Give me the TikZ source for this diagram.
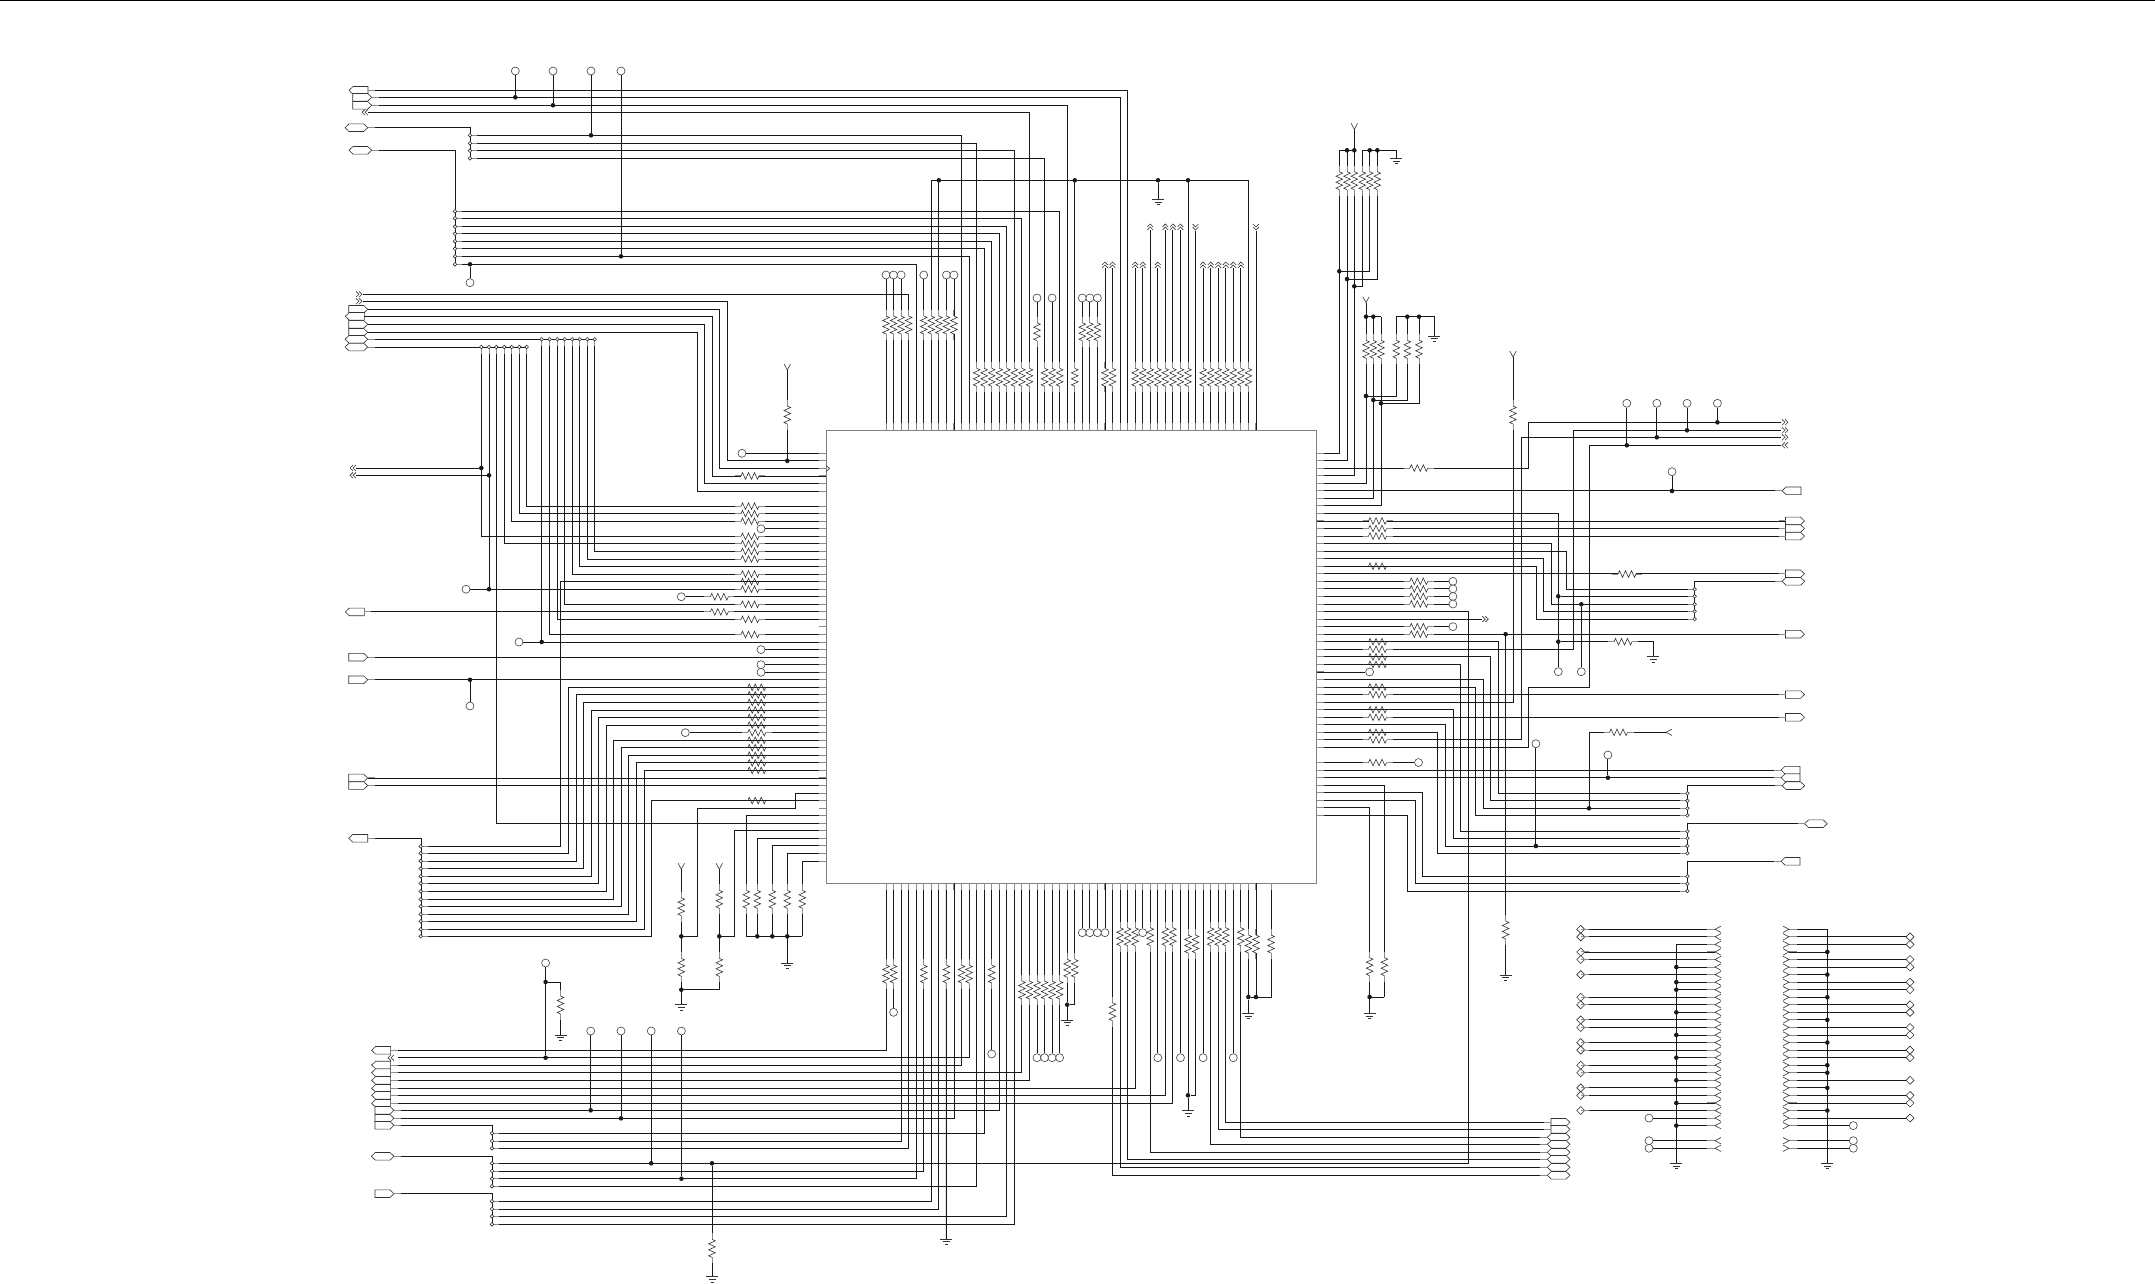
\documentclass[tikz,border=0pt]{standalone}
\tikzset{
  wire/.style={line width=0.9pt,black!90},
  part/.style={line width=0.6pt,black!80},
  pinstub/.style={line width=1pt,black!45},
  jdot/.style={circle,fill=black!90,inner sep=0pt,minimum size=4.6pt},
  term/.style={circle,draw=black!75,fill=white,line width=0.6pt,inner sep=0pt,minimum size=8pt},
  resv/.pic={
    \draw[white,line width=2pt] (0,-9) -- (0,9);
    \draw[pinstub] (0,-15) -- (0,-9) (0,9) -- (0,15);
    \draw[part] (0,-9) -- (3.3,-7.5) -- (-3.3,-4.5) -- (3.3,-1.5) -- (-3.3,1.5) -- (3.3,4.5) -- (-3.3,7.5) -- (0,9);
  },
  gnd/.pic={\draw[part] (-6,0) -- (6,0) (-3.5,2.7) -- (3.5,2.7) (-1.5,5.4) -- (1.5,5.4);},
  portout/.pic={
    \draw[part,fill=white] (0,-3.8) -- (-15,-3.8) -- (-19,0) -- (-15,3.8) -- (0,3.8) -- cycle;
    \draw[pinstub] (0,0) -- (7,0);
  },
  portin/.pic={
    \draw[part,fill=white] (0,0) -- (-4,-3.8) -- (-19,-3.8) -- (-19,3.8) -- (-4,3.8) -- cycle;
    \draw[pinstub] (0,0) -- (7,0);
  },
  porthex/.pic={
    \draw[part,fill=white] (0,0) -- (-4,-3.8) -- (-18.7,-3.8) -- (-22.7,0) -- (-18.7,3.8) -- (-4,3.8) -- cycle;
    \draw[pinstub] (0,0) -- (7,0);
  },
  chevd/.pic={\draw[part] (0,-2.9) -- (-3,0) -- (0,2.9) (3,-2.9) -- (0,0) -- (3,2.9);},
  chevs/.pic={\draw[part] (6,-3.2) -- (0,0) -- (6,3.2);},
  tap/.pic={
    \draw[pinstub] (1.8,0) -- (7,0);
    \draw[part,fill=white] (0,0) circle (1.8);
  },
  dia/.pic={\draw[part,fill=white] (-4,0) -- (0,-4) -- (4,0) -- (0,4) -- cycle;},
}
\begin{document}
\begin{tikzpicture}[x=1pt,y=-1pt]
  \useasboundingbox (0,0) rectangle (2155,1284);
  \draw[line width=1.4pt] (0,0.5) -- (2155,0.5);
  \node[draw=black!50,line width=0.9pt,inner sep=0pt,minimum width=490.5pt,minimum height=453pt] (chip) at (1071.25,656.5) {};
  \foreach \i in {0,...,54} {
    \coordinate (L\i) at (826,453.3+7.55*\i);
    \coordinate (R\i) at (1316.5,453+7.55*\i);
  }
  \foreach \i in {0,...,51} {
    \coordinate (T\i) at (886+7.55*\i,430);
    \coordinate (B\i) at (886+7.55*\i,883);
  }
  % top edge
  \foreach \p/\y/\x in {3/294.3/363, 4/264.3/455.7, 10/135.3/470.7, 11/256.3/455.7, 12/143.3/470.7, 13/248.7/455.7, 14/241.3/455.7, 15/233.7/455.7, 16/226.7/455.7, 17/150.7/470.7, 18/218.3/455.7, 19/112.3/368, 21/158.3/470.7, 23/211.3/455.7, 24/105.3/371.7, 31/97.3/371.7, 32/90.3/368}
    \draw[wire] (T\p) |- (\x,\y);
  \foreach \p in {6,7,25,40,48}
    \draw[wire] (T\p) -- (886+7.55*\p,180.3);
  \draw[wire] (931.3,180.3) -- (1248.7,180.3);
  \foreach \p in {7,25,40}
    \node[jdot] (td\p) at (886+7.55*\p,180.3) {};
  \node[jdot] (tg) at (1158,180.3) {};
  \coordinate (tgnd) at (1158,199.3);
  \draw[wire] (tg) -- (tgnd);
  \pic at (tgnd) {gnd};
  \foreach \p/\y in {0/275,1/275,2/275,5/275,8/275,9/275,20/298,22/298,26/298,27/298,28/298} {
    \node[term] (tc\p) at (886+7.55*\p,\y) {};
    \draw[wire] (T\p) -- (tc\p);
  }
  \foreach \p/\y in {29/265,30/265,33/265,34/265,35/227,36/265,37/227,38/227,39/227,42/265,43/265,44/265,45/265,46/265,47/265} {
    \draw[wire] (T\p) -- (886+7.55*\p,\y+3);
    \pic[rotate=-90] at (886+7.55*\p,\y) {chevd};
  }
  \foreach \p in {41,49} {
    \draw[wire] (T\p) -- (886+7.55*\p,231);
    \pic[rotate=90] at (886+7.55*\p,227) {chevd};
  }
  \foreach \p in {0,1,2,3,5,6,7,8,9}
    \pic at (886+7.55*\p,325) {resv};
  \foreach \p in {20,26,27,28}
    \pic at (886+7.55*\p,331.7) {resv};
  \foreach \p in {12,...,19,21,22,23,25,29,30,33,34,35,36,37,38,39,40,42,43,44,45,46,47,48}
    \pic at (886+7.55*\p,377.3) {resv};
  % top left
  \foreach \x/\y/\yy in {515.3/71/97.3, 553/71/105.3, 591/71/135.3, 621/71/256.3, 470/282.7/264.3} {
    \node[term] (tu) at (\x,\y) {};
    \node[jdot] (td) at (\x,\yy) {};
    \draw[wire] (tu) -- (td);
  }
  \draw[wire] (367.7,127.7) -| (470.7,158.3);
  \draw[wire] (371.7,150.3) -| (455.7,264.3);
  \draw[wire] (368,339.3) -- (594.7,339.3);
  \draw[wire] (368,347) -- (526.7,347);
  \pic at (368,90.3) {portout};
  \foreach \y in {97.3,105.3}
    \pic at (371.7,\y) {portin};
  \pic at (365,112.3) {chevd};
  \pic at (367.7,127.7) {porthex};
  \pic at (371.7,150.3) {porthex};
  \foreach \y in {294.3,301.3}
    \pic[xscale=-1] at (359,\y) {chevd};
  \foreach \y in {309.3,324.3,332.3}
    \pic at (367.7,\y) {portin};
  \pic at (364.3,316.3) {portout};
  \foreach \y in {339.3,347}
    \pic at (367.7,\y) {porthex};
  \foreach \y in {135.3,143.3,150.7,158.3}
    \pic at (470,\y) {tap};
  \foreach \y in {211.3,218.3,226.7,233.7,241.3,248.7,256.3,264.3}
    \pic at (455,\y) {tap};
  % left edge
  \foreach \p/\x/\y/\e in {1/727.3/301.3/363, 2/719.3/309.3/367.7, 3/712.3/316.3/364.3, 4/704.7/324.3/367.7, 5/697.3/332.3/367.7}
    \draw[wire] (L\p) -| (\x,\y) -- (\e,\y);
  \draw[wire] (489,347) -- (489,589.2);
  \foreach \p/\x/\y in {11/481.3/347, 49/496.3/347, 12/504.3/347, 9/511.7/347, 8/519.3/347, 7/526.7/347, 25/541.7/339.3, 24/549.7/339.3, 22/557.3/339.3, 20/564.7/339.3, 16/572.3/339.3, 15/579.7/339.3, 14/587.3/339.3, 13/594.7/339.3} {
    \draw[wire] (L\p) -| (\x,\y);
    \pic[rotate=-90] at (\x,\y) {tap};
  }
  \pic[rotate=-90] at (489,347) {tap};
  \foreach \p/\x in {0/742,10/761,18/466,19/681.3,25/519,26/761,28/761,29/761,37/685.3} {
    \node[term] (lc\p) at (\x,453.3+7.55*\p) {};
    \draw[wire] (L\p) -- (lc\p);
  }
  \foreach \p/\e in {27/367.7,30/367.7,43/367.7,44/367.7} {
    \draw[wire] (L\p) -- ++(\e-826,0);
    \pic at (\e,453.3+7.55*\p) {portin};
  }
  \draw[wire] (L21) -- ++(364.3-826,0);
  \pic at (364.3,611.9) {portout};
  \foreach \x/\y/\xx in {353/468/481.3, 353/475.3/489} {
    \node[jdot] (ld) at (\xx,\y) {};
    \draw[wire] (\x+3,\y) -- (ld);
    \pic at (\x,\y) {chevd};
  }
  \foreach \x/\y in {489/589.2, 541.7/642, 470/679.8}
    \node[jdot] at (\x,\y) {};
  \draw[wire] (470,679.8) -- (470,702);
  \node[term] (lc30) at (470,706) {};
  \draw[wire] (787.3,370) -- (787.3,460.85);
  \node[jdot] (ld1) at (787.3,460.85) {};
  \pic[rotate=90] at (787.3,370) {chevs};
  \pic at (787.3,415) {resv};
  \draw[part] (826,465.5) -- (829.5,468.5) -- (826,471.5);
  \foreach \p in {3,7,8,9,11,12,13,14,16,17,18,20,22,24}
    \pic[rotate=90] at (750,453.3+7.55*\p) {resv};
  \foreach \p in {19,21}
    \pic[rotate=90] at (719.3,453.3+7.55*\p) {resv};
  \foreach \p in {31,...,42,46}
    \pic[rotate=90] at (756.7,453.3+7.55*\p) {resv};
  % lower left
  \draw[wire] (367.7,838.3) -| (421.7,936.3);
  \foreach \p/\x/\y in {17/560.3/846.3, 31/568.3/853.3, 32/576.3/861, 33/583.7/868.7, 34/591.3/876.3, 35/598.7/883.3, 36/606.3/891.3, 38/613.7/899.3, 39/621.7/906.3, 40/628.3/914.3, 41/636.3/921.3, 42/644.3/929.3, 46/651.7/936.3} {
    \draw[wire] (L\p) -| (\x,\y) -- (421.7,\y);
    \pic at (420.7,\y) {tap};
  }
  \pic at (367.7,838.3) {portout};
  \draw[wire] (L45) -| (795,808.3) -| (697.3,936.3) -- (681.3,936.3);
  \draw[wire] (L50) -| (734.3,936.3) -- (719.3,936.3);
  \foreach \p/\x in {48/746.3,51/757.3,52/772.3,53/787.3,54/802.3} {
    \draw[wire] (L\p) -| (\x,936.3);
    \pic at (\x,899.3) {resv};
  }
  \draw[wire] (746.3,936.3) -- (802.3,936.3);
  \foreach \x in {757.3,772.3,787.3,681.3,719.3}
    \node[jdot] at (\x,936.3) {};
  \draw[wire] (787.3,936.3) -- (787.3,963);
  \pic at (787.3,963) {gnd};
  \draw[wire] (681.3,869.3) -- (681.3,1004.7);
  \draw[wire] (719.3,869.3) -- (719.3,989.7) -- (681.3,989.7);
  \node[jdot] (gd1) at (681.3,989.7) {};
  \pic at (681.3,1004.7) {gnd};
  \foreach \x in {681.3,719.3} {
    \pic[rotate=90] at (\x,869.3) {chevs};
    \pic at (\x,967.3) {resv};
  }
  \pic at (681.3,906.7) {resv};
  \pic at (719.3,899.3) {resv};
  % bottom edge
  \foreach \p/\y/\x in {0/1050.3/398, 11/1057.7/398, 10/1065/398, 18/1072.7/398, 19/1080.3/398, 33/1088.3/398, 37/1095.3/398, 38/1103.3/398, 15/1110.3/398, 9/1118.3/398, 13/1133.3/492, 2/1141/492, 3/1148.3/492, 5/1171/492, 4/1178.7/492, 12/1186.3/492, 6/1201.3/492, 7/1209/492, 16/1216.3/492, 17/1224.3/492}
    \draw[wire] (B\p) |- (\x,\y);
  \foreach \p/\y in {45/1122.3, 44/1129.3, 47/1137.3, 43/1144.3, 35/1152.3, 32/1159.3, 31/1167.3, 30/1175.3}
    \draw[wire] (B\p) |- (1547,\y);
  \foreach \p/\y in {1/1012.3, 14/1054, 20/1057.7, 21/1057.7, 22/1057.7, 23/1057.7, 26/932.7, 27/932.7, 28/932.7, 29/932.7, 34/932.7, 36/1057.7, 39/1057.7, 42/1057.7, 46/1057.7} {
    \node[term] (bc\p) at (886+7.55*\p,\y) {};
    \draw[wire] (B\p) -- (bc\p);
  }
  \draw[wire] (B8) -- (946.4,1239);
  \pic at (946.4,1239) {gnd};
  \foreach \p/\q/\y/\g in {24/25/1004.7/1020, 40/41/1095.3/1110.7, 48/49/997/1013.3} {
    \node[jdot] (bg\p) at (886+7.55*\p,\y) {};
    \draw[wire] (B\p) -- (bg\p);
    \draw[wire] (B\q) |- (bg\p);
    \draw[wire] (bg\p) -- (886+7.55*\p,\g);
    \pic at (886+7.55*\p,\g) {gnd};
  }
  \node[jdot] (bh49) at (886+7.55*49,997) {};
  \draw[wire] (B51) |- (bh49);
  \foreach \p in {0,1,5,8,10,11,14}
    \pic at (886+7.55*\p,974) {resv};
  \foreach \p in {18,...,23}
    \pic at (886+7.55*\p,990) {resv};
  \foreach \p in {24,25}
    \pic at (886+7.55*\p,968.3) {resv};
  \foreach \p in {31,32,33,35,37,38,43,44,45,47}
    \pic at (886+7.55*\p,936.7) {resv};
  \foreach \p in {40,41,48,49,51}
    \pic at (886+7.55*\p,944) {resv};
  \pic at (886+7.55*30,1011.7) {resv};
  % lower left block
  \draw[wire] (394,1125.3) -| (492.4,1148.3);
  \draw[wire] (394,1156.3) -| (492.4,1186.3);
  \draw[wire] (394,1193.7) -| (492.4,1224.3);
  \foreach \y in {1050.3,1065,1072.7,1080.3,1088.3,1095.3,1103.3}
    \pic at (390.6,\y) {portout};
  \pic at (391,1057.7) {chevd};
  \foreach \y in {1110.3,1118.3,1125.3,1193.7}
    \pic at (394,\y) {portin};
  \pic at (394,1156.3) {porthex};
  \foreach \x/\y/\yy in {590.7/1031/1110.3, 621/1031/1118.3, 651.2/1031/1163.3, 681.4/1031/1178.7} {
    \node[term] (bu) at (\x,\y) {};
    \node[jdot] (bv) at (\x,\yy) {};
    \draw[wire] (bu) -- (bv);
  }
  \node[term] (bt) at (545.6,963) {};
  \node[jdot] (bx) at (545.6,982) {};
  \node[jdot] (by) at (545.6,1057.7) {};
  \draw[wire] (bt) -- (by);
  \draw[wire] (bx) -| (560.5,1035);
  \pic at (560.5,1005) {resv};
  \pic at (560.5,1035) {gnd};
  \node[jdot] (bz) at (712,1163.3) {};
  \draw[wire] (bz) -- (712,1276.7);
  \pic at (712,1248.3) {resv};
  \pic at (712,1276.7) {gnd};
  \foreach \y in {1122.3,1129.3}
    \pic[xscale=-1] at (1551,\y) {portout};
  \foreach \y in {1137.3,1144.3,1152.3,1159.3,1167.3,1175.3}
    \pic[xscale=-1] at (1547.3,\y) {porthex};
  % right edge, up
  \foreach \p/\x/\y in {0/1339.3/150.3, 1/1347/150.3, 3/1354.3/129.3, 4/1366/302.7, 6/1373.3/316.7, 7/1381/316.7, 33/1513/357}
    \draw[wire] (R\p) -| (\x,\y);
  \pic[rotate=90] at (1354.3,129.3) {chevs};
  \pic[rotate=90] at (1366,302.7) {chevs};
  \pic[rotate=90] at (1513,357) {chevs};
  \pic at (1513,415) {resv};
  \draw[wire] (1339.3,150.3) -- (1354.3,150.3);
  \draw[wire] (1396,158.3) |- (1362.3,150.3) |- (1354.3,286.3);
  \draw[wire] (1369.7,150.3) |- (1339.3,271.3);
  \draw[wire] (1377.3,150.3) |- (1347,279);
  \pic at (1396,158.3) {gnd};
  \foreach \x in {1339.3,1347,1354.3,1362.3,1369.7,1377.3}
    \pic at (\x,180.7) {resv};
  \foreach \x/\y in {1347/150.3, 1354.3/150.3, 1369.7/150.3, 1377.3/150.3, 1339.3/271.3, 1347/279, 1354.3/286.3, 1366/316.7, 1373.3/316.7, 1407.3/316.7, 1419/316.7, 1366/396, 1373.3/400, 1381/403.3}
    \node[jdot] at (\x,\y) {};
  \draw[wire] (1366,316.7) -- (1381,316.7);
  \draw[wire] (1434.3,336) |- (1396.3,316.7) |- (1366,396);
  \draw[wire] (1407.3,316.7) |- (1373.3,400);
  \draw[wire] (1419,316.7) |- (1381,403.3);
  \pic at (1434.3,336) {gnd};
  \foreach \x in {1366,1373.3,1381,1396.3,1407.3,1419}
    \pic at (\x,349.3) {resv};
  % right edge, rows
  \foreach \p/\x in {5/1782, 42/1781, 43/1781} {
    \draw[wire] (R\p) -- ++(\x-1316.5,0);
    \pic[xscale=-1] at (\x,453+7.55*\p) {portin};
  }
  \foreach \p in {9,10,11,16,24,32,35} {
    \draw[wire] (R\p) -- ++(1785.5-1316.5,0);
    \pic[xscale=-1] at (1785.5,453+7.55*\p) {portout};
  }
  \draw[wire] (R2) -| (1528.3,422.3) -- (1781,422.3);
  \draw[wire] (R38) -| (1521,437.3) -- (1781,437.3);
  \draw[wire] (R26) -| (1573.4,430.3) -- (1781,430.3);
  \draw[wire] (R39) -| (1528.3,687) -| (1589.3,445.3) -- (1781,445.3);
  \foreach \y in {422.3,430.3,437.3}
    \pic[xscale=-1] at (1785,\y) {chevd};
  \pic at (1785,445.3) {chevd};
  \foreach \x/\y/\yy in {1626.8/403.3/445.3, 1656.8/403.3/437.3, 1687/403.3/430.3, 1717.4/403.3/422.3, 1672/471.7/491, 1607.9/755/777.7, 1535.9/743.7/846, 1581.3/671.7/604.3} {
    \node[term] (ru) at (\x,\y) {};
    \node[jdot] (rv) at (\x,\yy) {};
    \draw[wire] (ru) -- (rv);
  }
  \foreach \p/\x in {17/1452.9,18/1452.9,19/1452.9,20/1452.9,23/1452.9,29/1369.6,41/1418.5} {
    \node[term] (rc\p) at (\x,453+7.55*\p) {};
    \draw[wire] (R\p) -- (rc\p);
  }
  \foreach \p in {9,10,11,15,25,26,27,28,31,32,34,35,37,38,41}
    \pic[rotate=90] at (1377.5,453+7.55*\p) {resv};
  \foreach \p in {2,17,18,19,20,23,24}
    \pic[rotate=90] at (1418.8,453+7.55*\p) {resv};
  \pic[rotate=90] at (1627,574) {resv};
  % right bus
  \draw[wire] (1782,581.3) -| (1694.6,619);
  \foreach \p/\x/\y in {12/1551.4/604.3, 13/1566.2/589.3, 14/1543.8/611.3, 15/1536.2/619} {
    \draw[wire] (R\p) -| (\x,\y) -- (1694.6,\y);
    \pic[xscale=-1] at (1694.6,\y) {tap};
  }
  \node[term] (r8c) at (1558.3,671.7) {};
  \draw[wire] (R8) -| (r8c);
  \node[jdot] (r8a) at (1558.3,596.3) {};
  \node[jdot] (r8b) at (1558.3,641.7) {};
  \draw[wire] (r8a) -- (1694.6,596.3);
  \pic[xscale=-1] at (1694.6,596.3) {tap};
  \draw[wire] (r8b) -| (1653.3,656.7);
  \pic[rotate=90] at (1623,641.7) {resv};
  \pic at (1653.3,656.7) {gnd};
  \pic[xscale=-1] at (1782,581.3) {porthex};
  \draw[wire] (1782,785.7) -| (1687.4,815.3);
  \draw[wire] (1804.5,823.7) -| (1687.4,853.3);
  \draw[wire] (1781,861.3) -| (1687.4,891);
  \foreach \p/\x/\y in {25/1498.7/793.3, 27/1490.8/800.7, 30/1483.2/808.3, 31/1475.6/815.3, 28/1460.5/831.3, 34/1453.2/838.3, 36/1445.7/846, 37/1437.7/853.3, 45/1422.2/876.3, 46/1415.4/883.7, 48/1407.4/891} {
    \draw[wire] (R\p) -| (\x,\y) -- (1687.4,\y);
    \pic[xscale=-1] at (1687.4,\y) {tap};
  }
  \pic[xscale=-1] at (1782,785.7) {porthex};
  \pic[xscale=-1] at (1804.5,823.7) {porthex};
  \pic[xscale=-1] at (1781,861.3) {portin};
  \draw[wire] (R21) -| (1468.4,1163.3) -- (492,1163.3);
  \foreach \y in {1133.3,1141,1148.3,1163.3,1171,1178.7,1186.3,1201.3,1209,1216.3,1224.3}
    \pic at (492,\y) {tap};
  \draw[wire] (R22) -- ++(1482-1316.5,0);
  \pic[xscale=-1] at (1485.3,619.1) {chevd};
  \draw[wire] (1505.6,634.2) -- (1505.6,975);
  \node[jdot] (r24) at (1505.6,634.2) {};
  \pic at (1505.6,930) {resv};
  \pic at (1505.6,975) {gnd};
  \draw[wire] (1589,732.3) -- (1589,808.3);
  \node[jdot] (r9a) at (1589,808.3) {};
  \draw[wire] (1589,732.3) -- (1666,732.3);
  \pic[rotate=90] at (1618.5,732.3) {resv};
  \pic at (1666,732.3) {chevs};
  \foreach \p/\x in {44/1384.4,47/1369.6}
    \draw[wire] (R\p) -| (\x,997);
  \draw[wire] (1384.4,997) -- (1369.6,997) -- (1369.6,1013.3);
  \node[jdot] (r44) at (1369.6,997) {};
  \pic at (1369.6,1013.3) {gnd};
  \foreach \x in {1369.6,1384.4}
    \pic at (\x,966.7) {resv};
  % connector blocks
  \foreach \i in {0,...,26,28,29} {
    \coordinate (a\i) at (1715,929.3+7.55*\i);
    \coordinate (b\i) at (1789,929.3+7.55*\i);
  }
  \draw[wire] (1676.3,944.4) -- (1676.3,1163.3);
  \pic at (1676.3,1163.3) {gnd};
  \draw[wire] (1827.3,929.3) -- (1827.3,1163.3);
  \pic at (1827.3,1163.3) {gnd};
  \foreach \i in {0,1,3,4,6,9,10,12,13,15,16,18,19,21,22,24} {
    \draw[wire] (a\i) -- ++(-134.3,0);
    \pic at (1580.7,929.3+7.55*\i) {dia};
    \draw[pinstub] (a\i) ++(-126,0) -- ++(-8,0);
  }
  \foreach \i in {2,5,7,8,11,14,17,20,23,26}
    \draw[wire] (a\i) -- ++(-38.7,0);
  \foreach \i in {5,7,8,11,14,17,20,23,26}
    \node[jdot] at (1676.3,929.3+7.55*\i) {};
  \foreach \i in {25,28,29} {
    \node[term] (ac\i) at (1649,929.3+7.55*\i) {};
    \draw[wire] (a\i) -- (ac\i);
  }
  \foreach \i in {1,2,4,5,7,8,10,11,13,14,16,17,20,22,23,25} {
    \draw[wire] (b\i) -- ++(121,0);
    \pic at (1910,929.3+7.55*\i) {dia};
  }
  \draw[wire] (b0) -- (1827.3,929.3);
  \foreach \i in {3,6,9,12,15,18,19,21,24} {
    \draw[wire] (b\i) -- ++(38.3,0);
    \node[jdot] at (1827.3,929.3+7.55*\i) {};
  }
  \foreach \i in {26,28,29} {
    \node[term] (bd\i) at (1853.3,929.3+7.55*\i) {};
    \draw[wire] (b\i) -- (bd\i);
  }
  \foreach \i in {0,...,26,28,29} {
    \draw[pinstub] (a\i) -- ++(-8,0);
    \pic at (a\i) {chevs};
    \draw[pinstub] (b\i) -- ++(8,0);
    \pic[xscale=-1] at (b\i) {chevs};
  }
  % pin stubs
  \foreach \i in {0,...,5}
    \draw[pinstub] (L\i) -- ++(-7,0);
  \foreach \i in {7,...,54}
    \draw[pinstub] (L\i) -- ++(-7,0);
  \foreach \i in {0,...,39}
    \draw[pinstub] (R\i) -- ++(7,0);
  \foreach \i in {41,...,48}
    \draw[pinstub] (R\i) -- ++(7,0);
  \foreach \i in {0,...,49}
    \draw[pinstub] (T\i) -- ++(0,-7);
  \foreach \i in {0,...,49,51}
    \draw[pinstub] (B\i) -- ++(0,7);
\end{tikzpicture}
\end{document}
